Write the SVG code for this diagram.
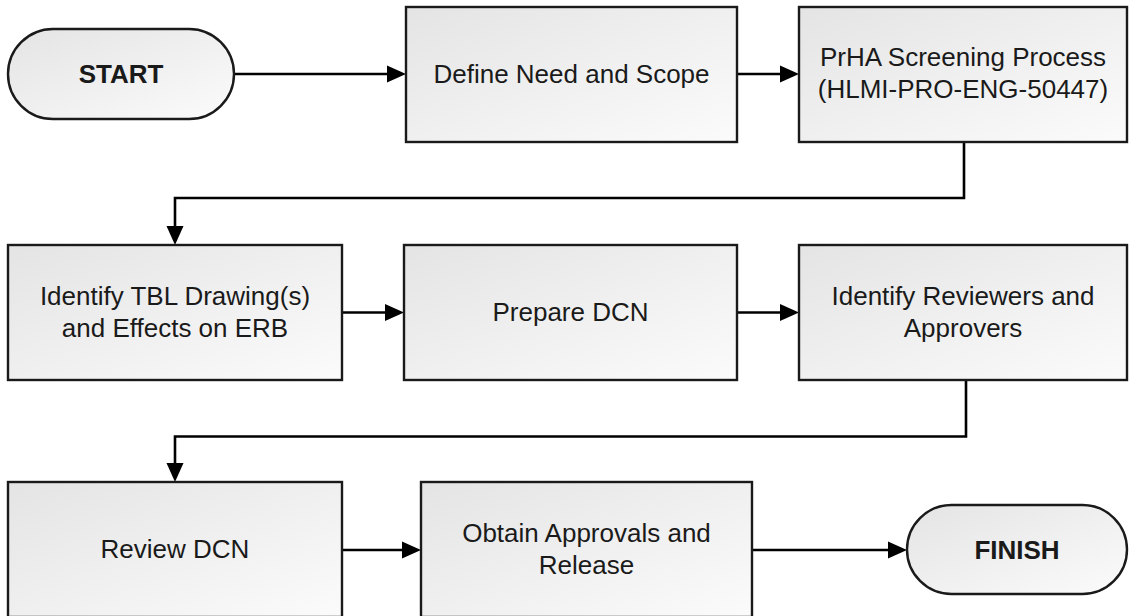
<svg xmlns="http://www.w3.org/2000/svg" width="1129" height="616" viewBox="0 0 1129 616">
  <style>
    .box { fill: url(#g); stroke: #1a1a1a; stroke-width: 2.4; }
    .t { font-family: "Liberation Sans", Arial, sans-serif; font-size: 26px; fill: #1a1a1a; text-anchor: middle; }
    .b { font-weight: bold; }
    .c { fill: none; stroke: #000; stroke-width: 2.6; }
  </style>
  <defs>
    <linearGradient id="g" x1="0" y1="0" x2="1" y2="1">
      <stop offset="0" stop-color="#e4e4e4"/>
      <stop offset="1" stop-color="#fbfbfb"/>
    </linearGradient>
    <marker id="ah" markerUnits="userSpaceOnUse" markerWidth="20" markerHeight="18" refX="9" refY="8.5" orient="auto" overflow="visible">
      <path d="M0,0 L19,8.5 L0,17 Z" fill="#000"/>
    </marker>
  </defs>
  <rect width="1129" height="616" fill="#fff"/>

  <g id="connectors">
    <path class="c" d="M234,74 H396" marker-end="url(#ah)"/>
    <path class="c" d="M737,74 H789" marker-end="url(#ah)"/>
    <path class="c" d="M964,142 V198 H175 V235" marker-end="url(#ah)"/>
    <path class="c" d="M342,312.5 H394" marker-end="url(#ah)"/>
    <path class="c" d="M737,312.5 H789" marker-end="url(#ah)"/>
    <path class="c" d="M966,380 V436.5 H175 V472" marker-end="url(#ah)"/>
    <path class="c" d="M342,550 H411" marker-end="url(#ah)"/>
    <path class="c" d="M752,550 H897" marker-end="url(#ah)"/>
  </g>

  <g id="start">
    <rect class="box" x="8" y="29" width="226" height="90" rx="45" ry="45"/>
    <text class="t b" x="121" y="83">START</text>
  </g>
  <g id="define-need">
    <rect class="box" x="406" y="7" width="331" height="135"/>
    <text class="t" x="571.5" y="83">Define Need and Scope</text>
  </g>
  <g id="prha">
    <rect class="box" x="799" y="7" width="328" height="135"/>
    <text class="t" x="963" y="66">PrHA Screening Process</text>
    <text class="t" x="963" y="98">(HLMI-PRO-ENG-50447)</text>
  </g>
  <g id="identify-tbl">
    <rect class="box" x="8" y="245" width="334" height="135"/>
    <text class="t" x="175" y="305">Identify TBL Drawing(s)</text>
    <text class="t" x="175" y="337">and Effects on ERB</text>
  </g>
  <g id="prepare-dcn">
    <rect class="box" x="404" y="245" width="333" height="135"/>
    <text class="t" x="570.5" y="321">Prepare DCN</text>
  </g>
  <g id="identify-reviewers">
    <rect class="box" x="799" y="245" width="328" height="135"/>
    <text class="t" x="963" y="305">Identify Reviewers and</text>
    <text class="t" x="963" y="337">Approvers</text>
  </g>
  <g id="review-dcn">
    <rect class="box" x="8" y="482" width="334" height="135"/>
    <text class="t" x="175" y="558">Review DCN</text>
  </g>
  <g id="obtain-approvals">
    <rect class="box" x="421" y="482" width="331" height="135"/>
    <text class="t" x="586.5" y="542">Obtain Approvals and</text>
    <text class="t" x="586.5" y="574">Release</text>
  </g>
  <g id="finish">
    <rect class="box" x="907" y="505" width="220" height="89" rx="44.5" ry="44.5"/>
    <text class="t b" x="1017" y="559">FINISH</text>
  </g>
</svg>
